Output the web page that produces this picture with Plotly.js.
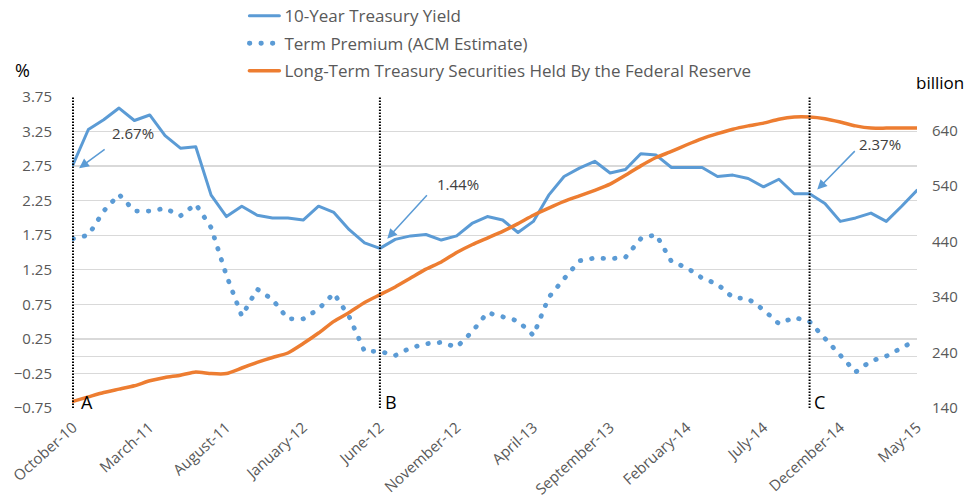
<!DOCTYPE html>
<html>
<head>
<meta charset="utf-8">
<script src="https://cdn.plot.ly/plotly-3.0.1.min.js"></script>
<style>
  html, body { margin: 0; padding: 0; background: #fff; }
  #chart { width: 980px; height: 501px; }
  .js-line, .legendlines path { stroke-linecap: round; stroke-linejoin: round; }
</style>
</head>
<body>
<div id="chart"></div>
<script>
// ---- Data (monthly, October-10 .. May-15) ----
const months = [
  "October-10","November-10","December-10","January-11","February-11","March-11","April-11","May-11","June-11","July-11","August-11","September-11",
  "October-11","November-11","December-11","January-12","February-12","March-12","April-12","May-12","June-12","July-12","August-12","September-12",
  "October-12","November-12","December-12","January-13","February-13","March-13","April-13","May-13","June-13","July-13","August-13","September-13",
  "October-13","November-13","December-13","January-14","February-14","March-14","April-14","May-14","June-14","July-14","August-14","September-14",
  "October-14","November-14","December-14","January-15","February-15","March-15","April-15","May-15"
];
const tickLabels = ["October-10","March-11","August-11","January-12","June-12","November-12","April-13","September-13","February-14","July-14","December-14","May-15"];

const yield10 = [
  2.77, 3.28, 3.42, 3.59, 3.41, 3.49, 3.19, 3.01, 3.03, 2.33, 2.02, 2.17,
  2.04, 2.00, 2.00, 1.97, 2.17, 2.08, 1.83, 1.64, 1.56, 1.69, 1.74, 1.76,
  1.68, 1.74, 1.92, 2.02, 1.97, 1.79, 1.95, 2.33, 2.60, 2.72, 2.82, 2.65,
  2.70, 2.93, 2.91, 2.73, 2.73, 2.73, 2.60, 2.62, 2.57, 2.45, 2.56, 2.35,
  2.35, 2.21, 1.95, 2.00, 2.07, 1.95, 2.17, 2.40
];
const termPremium = [
  1.70, 1.75, 2.10, 2.34, 2.10, 2.10, 2.14, 2.03, 2.20, 1.86, 1.17, 0.58,
  0.97, 0.82, 0.54, 0.54, 0.68, 0.91, 0.57, 0.07, 0.07, 0.01, 0.12, 0.18,
  0.20, 0.13, 0.35, 0.63, 0.57, 0.51, 0.30, 0.85, 1.12, 1.38, 1.42, 1.41,
  1.43, 1.70, 1.76, 1.37, 1.28, 1.13, 1.04, 0.85, 0.83, 0.67, 0.47, 0.56,
  0.50, 0.25, 0.02, -0.23, -0.07, 0.00, 0.12, 0.24
];
const fedHoldings = [
  152, 160, 168, 174, 180, 189, 195, 199, 205, 202, 202, 212,
  222, 231, 239, 256, 275, 296, 312, 330, 344, 358, 374, 390,
  403, 420, 434, 446, 458, 472, 487, 500, 512, 522, 532, 543,
  559, 576, 591, 602, 614, 625, 634, 642, 648, 653, 660, 664,
  664, 661, 655, 648, 644, 644, 644, 644
];
const seriesNames = ["10-Year Treasury Yield", "Term Premium (ACM Estimate)", "Long-Term Treasury Securities Held By the Federal Reserve"];

// Event markers
const eventLetters = ["A", "B", "C"];
const eventMonths = ["October-10", "June-12", "October-14"];
const calloutTexts = ["2.67%", "1.44%", "2.37%"];

const BLUE = "#5B9BD5", ORANGE = "#ED7D31", GRID = "#D9D9D9", TXT = "#595959";
const FONT = "Open Sans, Noto Sans, sans-serif";

const traces = [
  { x: months, y: yield10, name: seriesNames[0], type: "scatter", mode: "lines", legendgroup: "g1",
    line: { color: BLUE, width: 3 } },
  { x: months, y: termPremium, name: seriesNames[1], type: "scatter", mode: "lines", legendgroup: "g2",
    line: { color: BLUE, width: 4.8, dash: "0.5px,11px" } },
  { x: months, y: fedHoldings, name: seriesNames[2], type: "scatter", mode: "lines", yaxis: "y2", legendgroup: "g3",
    line: { color: ORANGE, width: 3.5, shape: "spline", smoothing: 0.5 } }
];

const idx = m => months.indexOf(m);

const shapes = eventMonths.map(m => ({
  type: "line", xref: "x", yref: "paper", x0: idx(m), x1: idx(m), y0: 0, y1: 1,
  line: { color: "#000", width: 2, dash: "1.5px,1.5px" }
}));

const annotations = [];
// Letters
const letterShift = [6, 3, 2];
eventMonths.forEach((m, k) => {
  annotations.push({ x: idx(m), y: -0.66, xref: "x", yref: "y", text: eventLetters[k], showarrow: false,
    xanchor: "left", yanchor: "middle", xshift: letterShift[k], font: { family: FONT, size: 18, color: "#000" } });
});
// Arrows (head positions in data coordinates)
const arrowHeads = [[0.4, 2.72, 27, -20], [20.48, 1.70, 41, -45], [48.5, 2.41, 39, -40]];
arrowHeads.forEach(a => {
  annotations.push({ x: a[0], y: a[1], xref: "x", yref: "y", ax: a[2], ay: a[3], text: "", showarrow: true,
    arrowhead: 2, arrowsize: 1.3, arrowwidth: 1.5, arrowcolor: BLUE });
});
// Callout texts
const calloutPos = [[3.88, 3.23], [25.08, 2.49], [52.6, 3.07]];
calloutPos.forEach((p, k) => {
  annotations.push({ x: p[0], y: p[1], xref: "x", yref: "y", text: calloutTexts[k], showarrow: false,
    xanchor: "center", yanchor: "middle", font: { family: FONT, size: 15, color: "#404040" } });
});
// Axis unit labels
annotations.push({ x: -0.059, y: 1.087, xref: "paper", yref: "paper", text: "%", showarrow: false,
  xanchor: "center", yanchor: "middle", font: { family: FONT, size: 18, color: "#000" } });
annotations.push({ x: 1.027, y: 1.048, xref: "paper", yref: "paper", text: "billion", showarrow: false,
  xanchor: "center", yanchor: "middle", font: { family: FONT, size: 17, color: "#000" } });

const layout = {
  width: 980, height: 501,
  margin: { l: 72, r: 63, t: 97, b: 93, autoexpand: false },
  paper_bgcolor: "#fff", plot_bgcolor: "#fff",
  font: { family: FONT, color: TXT },
  showlegend: true,
  legend: { x: 0.204, y: 1.318, xanchor: "left", yanchor: "top", orientation: "v",
    font: { family: FONT, size: 17, color: TXT }, bgcolor: "rgba(0,0,0,0)", tracegroupgap: 2.5 },
  xaxis: { type: "category", tickmode: "array", tickvals: tickLabels, ticktext: tickLabels,
    tickangle: -42, showgrid: false, zeroline: false, showline: false, ticks: "",
    ticklabelstandoff: 7, tickfont: { family: FONT, size: 15, color: TXT } },
  yaxis: { range: [-0.75, 3.75], tick0: -0.75, dtick: 0.5, tickformat: ".2f",
    showgrid: true, gridcolor: GRID, gridwidth: 1.3, zeroline: true, zerolinecolor: GRID, zerolinewidth: 1.3,
    showline: false, ticks: "", ticklabelstandoff: 19, tickfont: { family: FONT, size: 15, color: TXT } },
  yaxis2: { range: [140, 700], tick0: 140, dtick: 100, overlaying: "y", side: "right",
    tickvals: [140, 240, 340, 440, 540, 640],
    showgrid: false, zeroline: false, showline: false, ticks: "", ticklabelstandoff: 14,
    tickfont: { family: FONT, size: 15, color: TXT } },
  shapes: shapes,
  annotations: annotations
};

Plotly.newPlot("chart", traces, layout, { staticPlot: true, displayModeBar: false });
</script>
</body>
</html>
